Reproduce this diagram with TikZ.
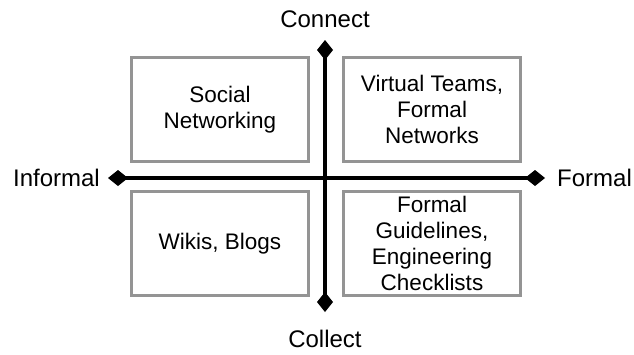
\documentclass[tikz,border=0pt]{standalone}
\usepackage{fontspec}
\setmainfont{Liberation Sans}
\usetikzlibrary{arrows.meta}

\tikzset{
  quadbox/.style={draw=black!42, line width=3pt, minimum width=177pt, minimum height=104pt, align=center, inner sep=0pt},
  axislabel/.style={inner sep=0pt, font=\fontsize{24}{26}\selectfont},
  axisline/.style={line width=3.5pt, {Diamond[length=20pt,width=16pt]}-{Diamond[length=20pt,width=16pt]}}
}

\begin{document}
\begin{tikzpicture}[x=1pt,y=-1pt, font=\fontsize{22.5}{26}\selectfont]
  \useasboundingbox (0,0) rectangle (634,354);
  % the four quadrants
  \node[quadbox] (social) at (220,109.5) {Social\\Networking};
  \node[quadbox] (virtual) at (432,109.5) {Virtual Teams,\\Formal\\Networks};
  \node[quadbox] (wikis) at (220,243.5) {Wikis, Blogs};
  \node[quadbox] (guide) at (432,243.5) {Formal\\Guidelines,\\Engineering\\Checklists};
  % axes
  \coordinate (west) at (108,178);
  \coordinate (east) at (545,178);
  \coordinate (north) at (325,40);
  \coordinate (south) at (325,312);
  \draw[axisline] (west) -- (east);
  \draw[axisline] (south) -- (north);
  \node[axislabel] (connect) at (325,19) {Connect};
  \node[axislabel] (collect) at (325,339) {Collect};
  \node[axislabel, anchor=east] (informal) at (100,178) {Informal};
  \node[axislabel, anchor=west] (formal) at (557,178) {Formal};
\end{tikzpicture}
\end{document}
